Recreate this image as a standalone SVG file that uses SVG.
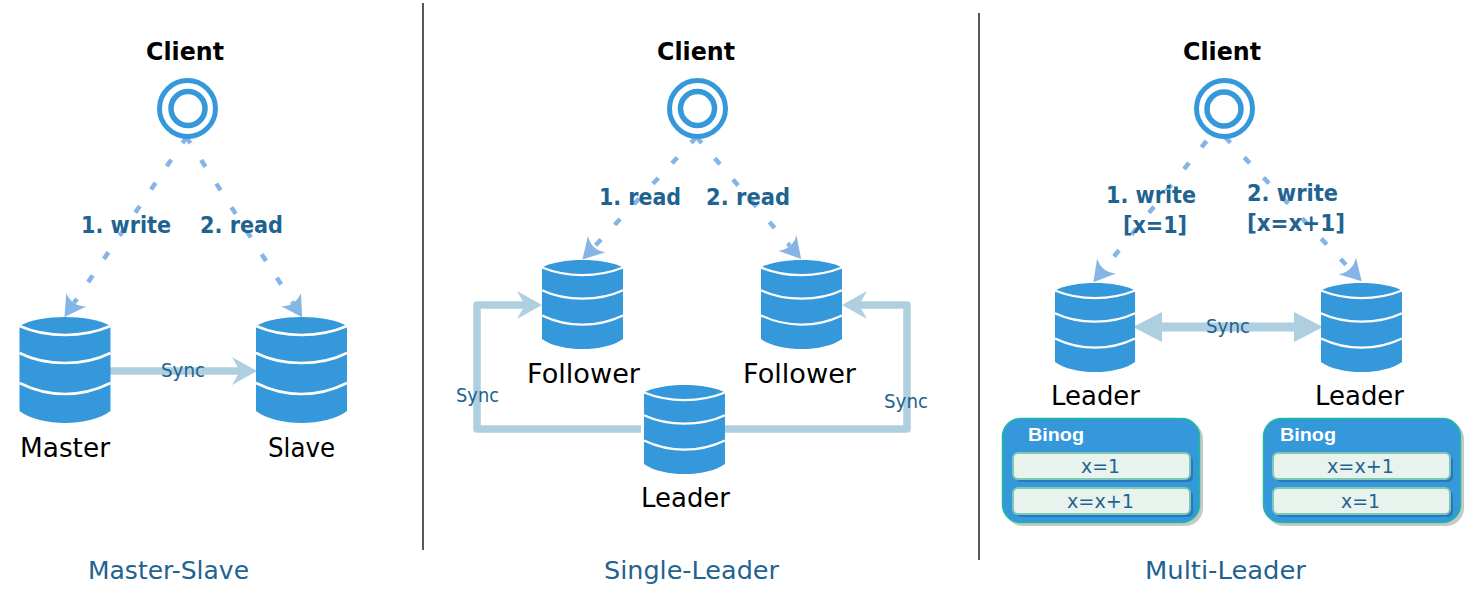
<svg xmlns="http://www.w3.org/2000/svg" xmlns:xlink="http://www.w3.org/1999/xlink" width="1466" height="600" viewBox="0 0 1466 600">
<style>
text{font-family:"DejaVu Sans","Liberation Sans",sans-serif}
.cl{font-size:25px;font-weight:700;fill:#000}
.nm{font-size:26px;fill:#000}
.op{font-size:23px;font-weight:700;fill:#1f6391}
.sy{font-size:19px;fill:#1f6391}
.ti{font-size:25px;fill:#1f6391}
.bl{font-size:19px;font-weight:700;fill:#fff;font-family:"Liberation Sans",Arial,sans-serif}
.en{font-size:20px;fill:#1f6391}
.ring{fill:none;stroke:#3498db}
.dash{fill:none;stroke:#85b4e6;stroke-width:4.500;stroke-dasharray:8 20;marker-end:url(#headDash)}
.sync{fill:none;stroke:#aecfdf;stroke-width:7.500;stroke-linejoin:round;marker-end:url(#headSync)}
.div{stroke:#222;stroke-width:1.500}
.box{fill:#3498db;stroke:#1abc9c;stroke-width:1.500}
.boxs{fill:#c8c8c8}
.ent{fill:#e8f3ee;stroke:#7ec8b4;stroke-width:2}
.ents{fill:#2a78b8}
</style>
<defs>
<marker id="headDash" markerUnits="userSpaceOnUse" markerWidth="24" markerHeight="26" viewBox="0 0 24 26" refX="4" refY="13" orient="auto"><path d="M0 1 L21 13 L0 25 Q8 13 0 1Z" fill="#85b4e6"/></marker>
<marker id="headSync" markerUnits="userSpaceOnUse" markerWidth="26" markerHeight="30" viewBox="0 0 26 30" refX="9" refY="15" orient="auto"><path d="M0 1 L25 15 L0 29 L8 15Z" fill="#aecfdf"/></marker>
<marker id="headFlat" markerUnits="userSpaceOnUse" markerWidth="30" markerHeight="32" viewBox="0 0 30 32" refX="2" refY="16" orient="auto-start-reverse"><path d="M0 1 L29 16 L0 31Z" fill="#aecfdf"/></marker>
<g id="cyl">
<path d="M0 9C10 3 28 0 45.500 0S81 3 91 9V94C81 102 62 106 45.500 106S10 102 0 94Z" fill="#3498db"/>
<path d="M0 9C14 15 30 18 45.500 18S77 15 91 9M0 36C14 43 30 46 45.500 46S77 43 91 36M0 66C14 73 30 77 45.500 77S77 73 91 66" fill="none" stroke="#fff" stroke-width="2.600"/>
</g>
</defs>
<rect width="1466" height="600" fill="#fff"/>
<g id="dividers">
<line class="div" x1="423" y1="3" x2="423" y2="550"/>
<line class="div" x1="979" y1="13" x2="979" y2="560"/>
</g>
<g id="connectors">
<path class="dash" d="M187 136.500L74 303"/>
<path class="dash" d="M186 136.500L293 303"/>
<path class="sync" d="M110 371H241"/>
<path class="dash" d="M696.500 137L594 247"/>
<path class="dash" d="M696.500 137L790 246"/>
<path class="sync" d="M641 429H477V305H526"/>
<path class="sync" d="M725 429H907V305H858"/>
<path class="dash" d="M1206.500 141L1104 269"/>
<path class="dash" d="M1225 137L1350 269"/>
<path d="M1160 327H1296" fill="none" stroke="#aecfdf" stroke-width="9" marker-start="url(#headFlat)" marker-end="url(#headFlat)"/>
</g>
<g id="client-ms">
<text class="cl" x="146" y="60" textLength="78" lengthAdjust="spacingAndGlyphs">Client</text>
<circle class="ring" cx="187.500" cy="108.500" r="28" stroke-width="5"/>
<circle class="ring" cx="188" cy="108.500" r="17" stroke-width="5.500"/>
</g>
<g id="master"><use href="#cyl" x="19.500" y="317"/><text class="nm" x="20" y="457" textLength="90" lengthAdjust="spacingAndGlyphs">Master</text></g>
<g id="slave"><use href="#cyl" x="256" y="317"/><text class="nm" x="268" y="457" textLength="67" lengthAdjust="spacingAndGlyphs">Slave</text></g>
<g id="client-sl">
<text class="cl" x="657" y="60" textLength="78" lengthAdjust="spacingAndGlyphs">Client</text>
<circle class="ring" cx="697.500" cy="108.500" r="28" stroke-width="5"/>
<circle class="ring" cx="697.500" cy="108.500" r="17" stroke-width="5.500"/>
</g>
<g id="follower-1"><use href="#cyl" transform="translate(542 260) scale(.89 .84)"/><text class="nm" x="527" y="383" textLength="113" lengthAdjust="spacingAndGlyphs">Follower</text></g>
<g id="follower-2"><use href="#cyl" transform="translate(761 260) scale(.89 .84)"/><text class="nm" x="743" y="383" textLength="113" lengthAdjust="spacingAndGlyphs">Follower</text></g>
<g id="leader-sl"><use href="#cyl" transform="translate(644 385) scale(.89 .84)"/><text class="nm" x="641" y="507" textLength="89" lengthAdjust="spacingAndGlyphs">Leader</text></g>
<g id="client-ml">
<text class="cl" x="1183" y="60" textLength="78" lengthAdjust="spacingAndGlyphs">Client</text>
<circle class="ring" cx="1224.500" cy="108.500" r="28" stroke-width="5"/>
<circle class="ring" cx="1224" cy="109" r="17" stroke-width="5.500"/>
</g>
<g id="leader-ml-1"><use href="#cyl" transform="translate(1055 283) scale(.88 .84)"/><text class="nm" x="1051" y="405" textLength="89" lengthAdjust="spacingAndGlyphs">Leader</text></g>
<g id="leader-ml-2"><use href="#cyl" transform="translate(1321 283) scale(.89 .84)"/><text class="nm" x="1315" y="405" textLength="89" lengthAdjust="spacingAndGlyphs">Leader</text></g>
<g id="binlog-1">
<rect class="boxs" x="1005" y="421" width="198" height="105" rx="18"/>
<rect class="box" x="1002.500" y="418.500" width="197" height="104" rx="18"/>
<text class="bl" x="1028" y="441" textLength="56" lengthAdjust="spacingAndGlyphs">Binog</text>
<rect class="ents" x="1016" y="456" width="177" height="26" rx="5"/>
<rect class="ent" x="1013" y="453" width="177" height="26" rx="5"/>
<text class="en" x="1081" y="473" textLength="39" lengthAdjust="spacingAndGlyphs">x=1</text>
<rect class="ents" x="1016" y="491" width="177" height="26" rx="5"/>
<rect class="ent" x="1013" y="488" width="177" height="26" rx="5"/>
<text class="en" x="1067" y="508" textLength="67" lengthAdjust="spacingAndGlyphs">x=x+1</text>
</g>
<g id="binlog-2">
<rect class="boxs" x="1266" y="421" width="198" height="105" rx="18"/>
<rect class="box" x="1263.500" y="418.500" width="197" height="104" rx="18"/>
<text class="bl" x="1280" y="441" textLength="56" lengthAdjust="spacingAndGlyphs">Binog</text>
<rect class="ents" x="1276" y="456" width="177" height="26" rx="5"/>
<rect class="ent" x="1273" y="453" width="177" height="26" rx="5"/>
<text class="en" x="1327" y="473" textLength="67" lengthAdjust="spacingAndGlyphs">x=x+1</text>
<rect class="ents" x="1276" y="491" width="177" height="26" rx="5"/>
<rect class="ent" x="1273" y="488" width="177" height="26" rx="5"/>
<text class="en" x="1341" y="508" textLength="39" lengthAdjust="spacingAndGlyphs">x=1</text>
</g>
<g id="labels">
<text class="op" x="81" y="233" textLength="90" lengthAdjust="spacingAndGlyphs">1. write</text>
<text class="op" x="200" y="233" textLength="83" lengthAdjust="spacingAndGlyphs">2. read</text>
<text class="sy" x="161" y="377" textLength="44" lengthAdjust="spacingAndGlyphs">Sync</text>
<text class="op" x="599" y="205" textLength="82" lengthAdjust="spacingAndGlyphs">1. read</text>
<text class="op" x="706" y="205" textLength="84" lengthAdjust="spacingAndGlyphs">2. read</text>
<text class="sy" x="456" y="402" textLength="43" lengthAdjust="spacingAndGlyphs">Sync</text>
<text class="sy" x="884" y="408" textLength="44" lengthAdjust="spacingAndGlyphs">Sync</text>
<text class="op" x="1106" y="203" textLength="90" lengthAdjust="spacingAndGlyphs">1. write</text>
<text class="op" x="1123" y="233" textLength="64" lengthAdjust="spacingAndGlyphs">[x=1]</text>
<text class="op" x="1247" y="201" textLength="91" lengthAdjust="spacingAndGlyphs">2. write</text>
<text class="op" x="1247" y="231" textLength="98" lengthAdjust="spacingAndGlyphs">[x=x+1]</text>
<text class="sy" x="1206" y="333" textLength="44" lengthAdjust="spacingAndGlyphs">Sync</text>
<text class="ti" x="88" y="579" textLength="161" lengthAdjust="spacingAndGlyphs">Master-Slave</text>
<text class="ti" x="604" y="579" textLength="175" lengthAdjust="spacingAndGlyphs">Single-Leader</text>
<text class="ti" x="1145" y="579" textLength="161" lengthAdjust="spacingAndGlyphs">Multi-Leader</text>
</g>
</svg>
